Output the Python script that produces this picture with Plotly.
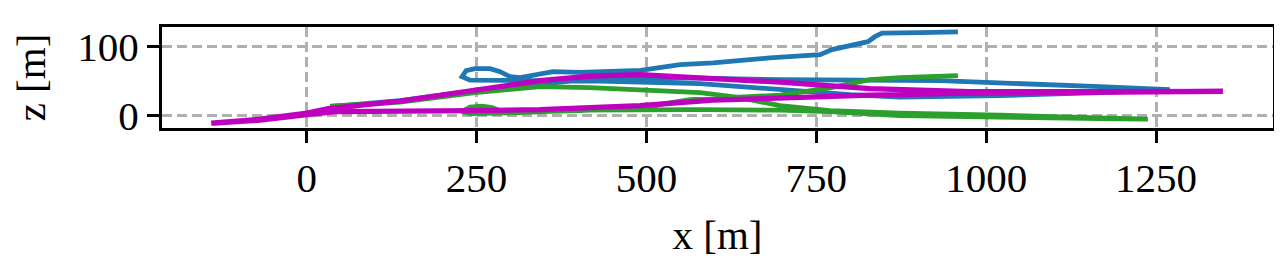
import plotly.graph_objects as go

# Trajectories (x [m], z [m])
blue_x = [34.4, 137.4, 247.8, 343.4, 431.6, 578.8, 696.5, 931.9, 1020.2, 1167.3, 1270.3,
          1167.3, 1020.2, 873.1, 799.6, 725.9, 652.3, 578.8, 431.6, 313.9, 240.4, 228.6,
          234.5, 247.8, 269.8, 284.5, 299.2, 313.9, 362.5, 402.1, 491.3, 549.6, 598.2,
          681.4, 755.4, 773.0, 796.5, 825.9, 836.2, 846.5, 902.4, 958.3]
blue_z = [12.6, 21.3, 35.8, 45.9, 54.0, 54.0, 51.7, 50.3, 47.4, 41.6, 37.2,
          32.9, 28.5, 26.4, 30.0, 34.8, 40.1, 45.9, 49.6, 50.3, 51.0, 56.1,
          64.8, 67.7, 67.7, 63.3, 56.1, 54.6, 63.3, 62.3, 65.2, 73.5, 75.9,
          83.2, 87.8, 95.2, 101.0, 106.8, 114.0, 119.1, 119.8, 120.8]

green_x = [34.4, 137.4, 247.8, 343.4, 417.0, 490.5, 578.8, 637.6, 696.5, 770.0, 873.1,
           1020.2, 1167.3, 1237.9, 1167.3, 1020.2, 873.1, 770.0, 696.5, 578.8, 490.5,
           402.2, 313.9, 269.8, 240.4, 228.6, 240.4, 258.0, 272.7, 284.5, 313.9, 402.2,
           490.5, 564.1, 637.6, 696.5, 770.0, 828.9, 873.1, 958.3]
green_z = [13.3, 19.1, 32.9, 41.6, 40.1, 37.2, 32.9, 25.6, 14.1, 6.8, 3.2,
           0.3, -3.3, -5.5, -4.8, -2.6, -0.4, 5.4, 7.5, 8.3, 7.2,
           7.5, 3.9, 2.5, 2.5, 5.4, 11.9, 13.3, 11.2, 6.8, 4.6, 6.8,
           11.2, 22.7, 27.1, 29.3, 39.7, 51.7, 54.6, 57.5]

magenta_x = [-140.6, -68.5, 0.6, 31.5, 137.4, 247.8, 343.4, 417.0, 490.5, 597.9, 696.5,
             828.9, 976.0, 1167.3, 1348.3, 1167.3, 976.0, 828.9, 696.5, 597.9, 490.5,
             417.0, 343.4, 247.8, 122.5, 41.7, 0.6, -68.5, -136.2]
magenta_z = [-11.3, -5.5, 3.2, 9.7, 20.6, 37.2, 50.3, 56.8, 59.0, 53.2, 48.1,
             38.7, 34.3, 34.3, 34.8, 33.2, 32.2, 29.3, 25.6, 22.0, 14.1,
             10.7, 8.3, 6.8, 5.8, 5.4, 1.0, -7.0, -11.3]

origin_x = [0.0]
origin_z = [4.0]

x_ticks = [0, 250, 500, 750, 1000, 1250]
z_ticks = [0, 100]

FONT = "Liberation Serif"
FS = 41

fig = go.Figure()
fig.add_trace(go.Scatter(x=origin_x, y=origin_z, mode="markers",
                         marker=dict(color="red", size=4), showlegend=False))
fig.add_trace(go.Scatter(x=blue_x, y=blue_z, mode="lines",
                         line=dict(color="#1f77b4", width=4.8), showlegend=False))
fig.add_trace(go.Scatter(x=green_x, y=green_z, mode="lines",
                         line=dict(color="#2ca02c", width=4.8), showlegend=False))
fig.add_trace(go.Scatter(x=magenta_x, y=magenta_z, mode="lines",
                         line=dict(color="#bf00bf", width=5.2), showlegend=False))

axis_common = dict(
    showline=True, mirror=True, linecolor="black", linewidth=3,
    ticks="outside", ticklen=12, tickwidth=3, tickcolor="black",
    showgrid=True, gridcolor="#b0b0b0", gridwidth=2.5, griddash="10px,5px",
    zeroline=False, automargin=False,
    tickfont=dict(family=FONT, size=FS, color="black"),
)

fig.update_xaxes(range=[-213, 1422], tickvals=x_ticks, ticktext=[str(t) for t in x_ticks],
                 title=dict(text="x [m]", font=dict(family=FONT, size=FS, color="black"),
                            standoff=21),
                 **axis_common)
fig.update_yaxes(range=[-18.3, 128], tickvals=z_ticks, ticktext=[str(t) for t in z_ticks],
                 title=dict(text="z [m]", font=dict(family=FONT, size=FS, color="black"),
                            standoff=20),
                 **axis_common)

# page body adds an 8px margin; size the figure so the plot area lands
# at x 162..1273, y 27..128 in the 1282x271 window
fig.update_layout(
    width=1266, height=255,
    margin=dict(l=154, r=1, t=19, b=135),
    plot_bgcolor="white", paper_bgcolor="white",
    showlegend=False,
)

fig.write_html("out.html")
